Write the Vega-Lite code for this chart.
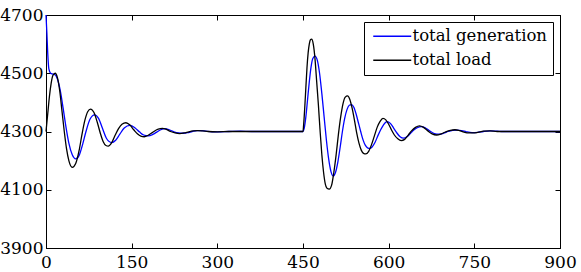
{
  "$schema": "https://vega.github.io/schema/vega-lite/v6.json",
  "width": 514,
  "height": 233,
  "autosize": "none",
  "padding": {"left": 46, "top": 15, "right": 21, "bottom": 24},
  "background": "white",
  "config": {
    "view": {"stroke": "black", "strokeWidth": 1},
    "font": "DejaVu Serif",
    "axis": {"grid": false, "domainColor": "black", "tickColor": "black", "labelColor": "black", "labelFont": "DejaVu Serif", "labelFontSize": 17, "tickSize": -5, "title": null, "format": "d"},
    "legend": {"orient": "top-right", "offset": 7, "strokeColor": "black", "fillColor": "white", "padding": 6, "labelFont": "DejaVu Serif", "labelFontSize": 16.5, "labelColor": "black", "symbolType": "M-3.8,0L3.8,0", "symbolSize": 100, "symbolOffset": 14, "symbolStrokeWidth": 1.3, "rowPadding": 7, "labelOffset": 12, "cornerRadius": 0, "title": null}
  },
  "data": {"values": [
    {"s":"total generation","t":0,"v":4700},{"s":"total generation","t":1.5,"v":4640},{"s":"total generation","t":3,"v":4570},{"s":"total generation","t":5,"v":4515},{"s":"total generation","t":8,"v":4500},{"s":"total generation","t":12,"v":4497},{"s":"total generation","t":16,"v":4495},{"s":"total generation","t":20,"v":4480},{"s":"total generation","t":25,"v":4440},{"s":"total generation","t":30,"v":4380},{"s":"total generation","t":35,"v":4315},{"s":"total generation","t":40,"v":4260},{"s":"total generation","t":46,"v":4220},{"s":"total generation","t":52,"v":4206},{"s":"total generation","t":58,"v":4218},{"s":"total generation","t":64,"v":4255},{"s":"total generation","t":70,"v":4300},{"s":"total generation","t":77,"v":4342},{"s":"total generation","t":85,"v":4357},{"s":"total generation","t":92,"v":4345},{"s":"total generation","t":99,"v":4310},{"s":"total generation","t":106,"v":4276},{"s":"total generation","t":115,"v":4262},{"s":"total generation","t":122,"v":4270},{"s":"total generation","t":129,"v":4290},{"s":"total generation","t":137,"v":4312},{"s":"total generation","t":147,"v":4321},{"s":"total generation","t":156,"v":4312},{"s":"total generation","t":164,"v":4298},{"s":"total generation","t":171,"v":4288},{"s":"total generation","t":179,"v":4285},{"s":"total generation","t":187,"v":4290},{"s":"total generation","t":194,"v":4298},{"s":"total generation","t":201,"v":4306},{"s":"total generation","t":208,"v":4310},{"s":"total generation","t":216,"v":4306},{"s":"total generation","t":224,"v":4299},{"s":"total generation","t":232,"v":4295},{"s":"total generation","t":240,"v":4294},{"s":"total generation","t":248,"v":4296},{"s":"total generation","t":256,"v":4300},{"s":"total generation","t":264,"v":4303},{"s":"total generation","t":271,"v":4303},{"s":"total generation","t":280,"v":4301},{"s":"total generation","t":290,"v":4299},{"s":"total generation","t":300,"v":4299},{"s":"total generation","t":320,"v":4300},{"s":"total generation","t":340,"v":4301},{"s":"total generation","t":360,"v":4300},{"s":"total generation","t":400,"v":4300},{"s":"total generation","t":450,"v":4300},
    {"s":"total generation","t":452,"v":4310},{"s":"total generation","t":455,"v":4350},{"s":"total generation","t":458,"v":4410},{"s":"total generation","t":461,"v":4470},{"s":"total generation","t":464,"v":4520},{"s":"total generation","t":467,"v":4550},{"s":"total generation","t":471,"v":4559},{"s":"total generation","t":475,"v":4545},{"s":"total generation","t":479,"v":4500},{"s":"total generation","t":483,"v":4430},{"s":"total generation","t":487,"v":4350},{"s":"total generation","t":491,"v":4270},{"s":"total generation","t":495,"v":4205},{"s":"total generation","t":499,"v":4162},{"s":"total generation","t":503,"v":4147},{"s":"total generation","t":507,"v":4160},{"s":"total generation","t":511,"v":4195},{"s":"total generation","t":515,"v":4245},{"s":"total generation","t":519,"v":4300},{"s":"total generation","t":523,"v":4345},{"s":"total generation","t":527,"v":4375},{"s":"total generation","t":531,"v":4390},{"s":"total generation","t":535,"v":4392},{"s":"total generation","t":539,"v":4383},{"s":"total generation","t":543,"v":4360},{"s":"total generation","t":547,"v":4330},{"s":"total generation","t":551,"v":4300},{"s":"total generation","t":555,"v":4272},{"s":"total generation","t":559,"v":4253},{"s":"total generation","t":563,"v":4244},{"s":"total generation","t":567,"v":4242},{"s":"total generation","t":571,"v":4247},{"s":"total generation","t":576,"v":4262},{"s":"total generation","t":581,"v":4285},{"s":"total generation","t":586,"v":4306},{"s":"total generation","t":591,"v":4323},{"s":"total generation","t":597,"v":4334},{"s":"total generation","t":603,"v":4328},{"s":"total generation","t":609,"v":4311},{"s":"total generation","t":614,"v":4296},{"s":"total generation","t":620,"v":4282},{"s":"total generation","t":626,"v":4277},{"s":"total generation","t":632,"v":4282},{"s":"total generation","t":638,"v":4293},{"s":"total generation","t":644,"v":4305},{"s":"total generation","t":650,"v":4313},{"s":"total generation","t":657,"v":4317},{"s":"total generation","t":664,"v":4313},{"s":"total generation","t":671,"v":4303},{"s":"total generation","t":680,"v":4293},{"s":"total generation","t":688,"v":4291},{"s":"total generation","t":696,"v":4294},{"s":"total generation","t":704,"v":4300},{"s":"total generation","t":712,"v":4304},{"s":"total generation","t":720,"v":4305},{"s":"total generation","t":728,"v":4303},{"s":"total generation","t":736,"v":4299},{"s":"total generation","t":746,"v":4296},{"s":"total generation","t":756,"v":4297},{"s":"total generation","t":766,"v":4300},{"s":"total generation","t":778,"v":4302},{"s":"total generation","t":790,"v":4301},{"s":"total generation","t":800,"v":4300},{"s":"total generation","t":820,"v":4300},{"s":"total generation","t":860,"v":4300},{"s":"total generation","t":900,"v":4300},
    {"s":"total load","t":0,"v":4300},{"s":"total load","t":3,"v":4360},{"s":"total load","t":6,"v":4420},{"s":"total load","t":9,"v":4465},{"s":"total load","t":12,"v":4492},{"s":"total load","t":16,"v":4500},{"s":"total load","t":20,"v":4485},{"s":"total load","t":24,"v":4440},{"s":"total load","t":28,"v":4370},{"s":"total load","t":32,"v":4300},{"s":"total load","t":36,"v":4240},{"s":"total load","t":40,"v":4200},{"s":"total load","t":46,"v":4177},{"s":"total load","t":52,"v":4190},{"s":"total load","t":58,"v":4235},{"s":"total load","t":63,"v":4290},{"s":"total load","t":68,"v":4338},{"s":"total load","t":73,"v":4368},{"s":"total load","t":78,"v":4377},{"s":"total load","t":84,"v":4365},{"s":"total load","t":90,"v":4330},{"s":"total load","t":95,"v":4295},{"s":"total load","t":100,"v":4266},{"s":"total load","t":105,"v":4252},{"s":"total load","t":109,"v":4250},{"s":"total load","t":115,"v":4262},{"s":"total load","t":121,"v":4287},{"s":"total load","t":127,"v":4310},{"s":"total load","t":133,"v":4325},{"s":"total load","t":140,"v":4330},{"s":"total load","t":147,"v":4322},{"s":"total load","t":154,"v":4305},{"s":"total load","t":160,"v":4292},{"s":"total load","t":166,"v":4284},{"s":"total load","t":172,"v":4282},{"s":"total load","t":179,"v":4287},{"s":"total load","t":186,"v":4296},{"s":"total load","t":193,"v":4305},{"s":"total load","t":200,"v":4310},{"s":"total load","t":204,"v":4311},{"s":"total load","t":210,"v":4308},{"s":"total load","t":218,"v":4300},{"s":"total load","t":226,"v":4295},{"s":"total load","t":234,"v":4293},{"s":"total load","t":242,"v":4295},{"s":"total load","t":250,"v":4299},{"s":"total load","t":258,"v":4302},{"s":"total load","t":266,"v":4303},{"s":"total load","t":274,"v":4302},{"s":"total load","t":284,"v":4300},{"s":"total load","t":300,"v":4299},{"s":"total load","t":320,"v":4300},{"s":"total load","t":360,"v":4300},{"s":"total load","t":400,"v":4300},{"s":"total load","t":450,"v":4300},
    {"s":"total load","t":451,"v":4320},{"s":"total load","t":453,"v":4380},{"s":"total load","t":455,"v":4450},{"s":"total load","t":457,"v":4520},{"s":"total load","t":459,"v":4570},{"s":"total load","t":461,"v":4600},{"s":"total load","t":463,"v":4615},{"s":"total load","t":465,"v":4617},{"s":"total load","t":468,"v":4600},{"s":"total load","t":471,"v":4550},{"s":"total load","t":474,"v":4470},{"s":"total load","t":477,"v":4390},{"s":"total load","t":480,"v":4300},{"s":"total load","t":483,"v":4220},{"s":"total load","t":486,"v":4160},{"s":"total load","t":489,"v":4120},{"s":"total load","t":492,"v":4105},{"s":"total load","t":496,"v":4102},{"s":"total load","t":500,"v":4115},{"s":"total load","t":504,"v":4160},{"s":"total load","t":508,"v":4220},{"s":"total load","t":512,"v":4290},{"s":"total load","t":516,"v":4350},{"s":"total load","t":520,"v":4395},{"s":"total load","t":524,"v":4418},{"s":"total load","t":528,"v":4422},{"s":"total load","t":532,"v":4410},{"s":"total load","t":536,"v":4380},{"s":"total load","t":540,"v":4340},{"s":"total load","t":544,"v":4295},{"s":"total load","t":548,"v":4260},{"s":"total load","t":552,"v":4236},{"s":"total load","t":556,"v":4225},{"s":"total load","t":560,"v":4223},{"s":"total load","t":565,"v":4232},{"s":"total load","t":570,"v":4255},{"s":"total load","t":575,"v":4285},{"s":"total load","t":580,"v":4315},{"s":"total load","t":585,"v":4335},{"s":"total load","t":590,"v":4345},{"s":"total load","t":595,"v":4340},{"s":"total load","t":600,"v":4325},{"s":"total load","t":605,"v":4305},{"s":"total load","t":610,"v":4288},{"s":"total load","t":616,"v":4275},{"s":"total load","t":622,"v":4269},{"s":"total load","t":628,"v":4273},{"s":"total load","t":634,"v":4287},{"s":"total load","t":640,"v":4302},{"s":"total load","t":647,"v":4314},{"s":"total load","t":654,"v":4319},{"s":"total load","t":661,"v":4314},{"s":"total load","t":668,"v":4303},{"s":"total load","t":676,"v":4292},{"s":"total load","t":684,"v":4288},{"s":"total load","t":692,"v":4292},{"s":"total load","t":700,"v":4299},{"s":"total load","t":708,"v":4304},{"s":"total load","t":716,"v":4306},{"s":"total load","t":724,"v":4303},{"s":"total load","t":732,"v":4298},{"s":"total load","t":740,"v":4295},{"s":"total load","t":748,"v":4295},{"s":"total load","t":756,"v":4297},{"s":"total load","t":766,"v":4301},{"s":"total load","t":777,"v":4302},{"s":"total load","t":790,"v":4300},{"s":"total load","t":800,"v":4300},{"s":"total load","t":850,"v":4300},{"s":"total load","t":900,"v":4300}
  ]},
  "layer": [
    {
      "mark": {"type": "line", "interpolate": "monotone", "strokeWidth": 1.3},
      "encoding": {
        "x": {"field": "t", "type": "quantitative", "scale": {"domain": [0, 900], "nice": false}, "axis": {"orient": "bottom", "values": [0, 150, 300, 450, 600, 750, 900], "labelPadding": 11, "labelFlush": false}},
        "y": {"field": "v", "type": "quantitative", "scale": {"domain": [3900, 4700], "nice": false, "zero": false}, "axis": {"orient": "left", "values": [3900, 4100, 4300, 4500, 4700], "labelPadding": 8, "labelFlush": false}},
        "color": {"field": "s", "type": "nominal", "scale": {"domain": ["total generation", "total load"], "range": ["#0000ff", "#000000"]}}
      }
    },
    {
      "mark": {"type": "line", "opacity": 0},
      "encoding": {
        "x": {"field": "t", "type": "quantitative", "axis": {"orient": "top", "values": [0, 150, 300, 450, 600, 750, 900], "labels": false}},
        "y": {"field": "v", "type": "quantitative", "axis": {"orient": "right", "values": [3900, 4100, 4300, 4500, 4700], "labels": false}}
      }
    }
  ]
}
